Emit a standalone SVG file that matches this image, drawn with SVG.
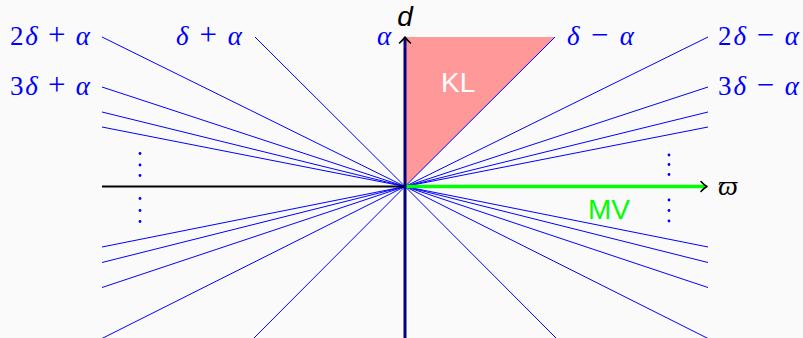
<svg xmlns="http://www.w3.org/2000/svg" width="803" height="338" viewBox="0 0 803 338">
  <defs>
    <style>
      .ray { stroke: #0000ff; stroke-width: 1; fill: none; }
      .math { font-family: "Liberation Serif", "DejaVu Serif", serif; font-size: 27px; fill: #0000ff; }
      .it { font-style: italic; }
      .op { font-size: 31px; }
      .sans { font-family: "Liberation Sans", "DejaVu Sans", sans-serif; font-size: 28px; }
      .dot { fill: #0000ff; }
      .tip { stroke: #000000; stroke-width: 1.6; fill: none; stroke-linecap: round; stroke-linejoin: round; }
    </style>
  </defs>
  <rect x="0" y="0" width="803" height="338" fill="#fafafa"/>

  <g id="region-KL">
    <polygon points="405,37 555,37 405,186.5" fill="#ff9999"/>
    <text x="441" y="92" class="sans" fill="#ffffff">KL</text>
  </g>

  <g id="connectors">
    <!-- upper left -->
    <line class="ray" x1="405" y1="186.5" x2="102" y2="37"/>
    <line class="ray" x1="405" y1="186.5" x2="255" y2="37"/>
    <line class="ray" x1="405" y1="186.5" x2="102" y2="87"/>
    <line class="ray" x1="405" y1="186.5" x2="102" y2="112"/>
    <line class="ray" x1="405" y1="186.5" x2="102" y2="127"/>
    <!-- upper right -->
    <line class="ray" x1="405" y1="186.5" x2="708" y2="37"/>
    <line class="ray" x1="405" y1="186.5" x2="555" y2="37"/>
    <line class="ray" x1="405" y1="186.5" x2="708" y2="87"/>
    <line class="ray" x1="405" y1="186.5" x2="708" y2="112"/>
    <line class="ray" x1="405" y1="186.5" x2="708" y2="127"/>
    <!-- lower left -->
    <line class="ray" x1="405" y1="186.5" x2="102" y2="247"/>
    <line class="ray" x1="405" y1="186.5" x2="102" y2="262.5"/>
    <line class="ray" x1="405" y1="186.5" x2="102" y2="287.5"/>
    <line class="ray" x1="405" y1="186.5" x2="95" y2="342"/>
    <line class="ray" x1="405" y1="186.5" x2="250" y2="342"/>
    <!-- lower right -->
    <line class="ray" x1="405" y1="186.5" x2="708" y2="247"/>
    <line class="ray" x1="405" y1="186.5" x2="708" y2="262.5"/>
    <line class="ray" x1="405" y1="186.5" x2="708" y2="287.5"/>
    <line class="ray" x1="405" y1="186.5" x2="715" y2="342"/>
    <line class="ray" x1="405" y1="186.5" x2="560" y2="342"/>
  </g>

  <g id="axis-varpi">
    <line x1="102" y1="186.5" x2="405" y2="186.5" stroke="#000000" stroke-width="2"/>
    <line x1="405" y1="186.5" x2="705" y2="186.5" stroke="#00ff00" stroke-width="3.5"/>
    <path class="tip" d="M701,181.5 Q704,185 707,186.5 Q704,188 701,191.5"/>
    <text x="718" y="195" font-family="'Liberation Serif', 'DejaVu Serif', serif" font-style="italic" font-size="28" fill="#000000">ϖ</text>
  </g>

  <g id="axis-d">
    <line x1="405" y1="338" x2="405" y2="38" stroke="#000080" stroke-width="3"/>
    <path class="tip" d="M399.5,43 Q403,40 405,37 Q407,40 410.5,43"/>
    <text x="405" y="26" class="sans" font-size="26" font-style="italic" text-anchor="middle" fill="#000000">d</text>
  </g>

  <g id="region-MV">
    <text x="588" y="219" class="sans" fill="#00ff00">MV</text>
  </g>

  <g id="labels">
    <text class="math" x="10" y="45" textLength="80" lengthAdjust="spacing">2<tspan class="it">δ</tspan> <tspan class="op">+</tspan> <tspan class="it">α</tspan></text>
    <text class="math" x="176" y="45" textLength="66" lengthAdjust="spacing"><tspan class="it">δ</tspan> <tspan class="op">+</tspan> <tspan class="it">α</tspan></text>
    <text class="math" x="10" y="95" textLength="80" lengthAdjust="spacing">3<tspan class="it">δ</tspan> <tspan class="op">+</tspan> <tspan class="it">α</tspan></text>
    <text class="math it" x="377" y="45">α</text>
    <text class="math" x="567" y="45" textLength="67" lengthAdjust="spacing"><tspan class="it">δ</tspan> <tspan class="op">−</tspan> <tspan class="it">α</tspan></text>
    <text class="math" x="718" y="45" textLength="81" lengthAdjust="spacing">2<tspan class="it">δ</tspan> <tspan class="op">−</tspan> <tspan class="it">α</tspan></text>
    <text class="math" x="718" y="95" textLength="81" lengthAdjust="spacing">3<tspan class="it">δ</tspan> <tspan class="op">−</tspan> <tspan class="it">α</tspan></text>
  </g>

  <g id="vdots">
    <circle class="dot" cx="140" cy="153.5" r="1.4"/>
    <circle class="dot" cx="140" cy="165" r="1.4"/>
    <circle class="dot" cx="140" cy="175.5" r="1.4"/>
    <circle class="dot" cx="140" cy="198.5" r="1.4"/>
    <circle class="dot" cx="140" cy="210.5" r="1.4"/>
    <circle class="dot" cx="140" cy="221.5" r="1.4"/>
    <circle class="dot" cx="669" cy="155" r="1.4"/>
    <circle class="dot" cx="669" cy="164.5" r="1.4"/>
    <circle class="dot" cx="669" cy="174.5" r="1.4"/>
    <circle class="dot" cx="669" cy="200" r="1.4"/>
    <circle class="dot" cx="669" cy="210.5" r="1.4"/>
    <circle class="dot" cx="669" cy="221" r="1.4"/>
  </g>
</svg>
